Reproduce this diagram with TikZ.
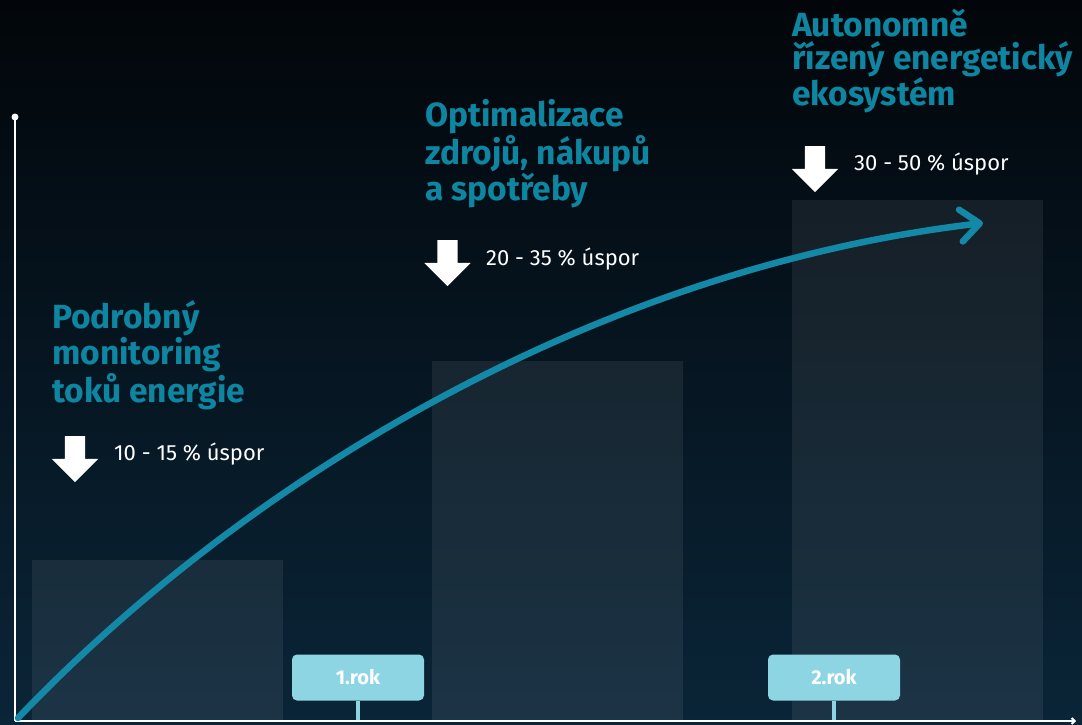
\documentclass[tikz,border=0pt]{standalone}
\usepackage{fontspec}
\setmainfont{Fira Sans}
\usetikzlibrary{arrows.meta,positioning,shapes.arrows}

\definecolor{bgtop}{HTML}{02060A}
\definecolor{bgmid}{HTML}{05121C}
\definecolor{bgbot}{HTML}{0A2538}
\definecolor{titleteal}{HTML}{0E86A2}
\definecolor{curveteal}{HTML}{1489A7}
\definecolor{yearbox}{HTML}{8DD5E3}

\begin{document}
\begin{tikzpicture}[x=1pt,y=-1pt,
    title/.style={anchor=base west,align=left,inner sep=0,text=titleteal,font=\bfseries\fontsize{33.5}{33.5}\selectfont},
    saving/.style={anchor=base west,inner sep=0,text=white,font=\fontsize{22}{24}\selectfont},
    downarrow/.style={single arrow,fill=white,shape border rotate=270,inner sep=10pt,
        single arrow head extend=13pt,single arrow tip angle=90,minimum height=46pt},
    yearlabel/.style={fill=yearbox,rounded corners=5pt,text=white,minimum width=132pt,minimum height=46pt,
        font=\bfseries\fontsize{20}{22}\selectfont},
    bar/.style={fill=white,fill opacity=0.07}]

        % background with gradient
        \shade[top color=bgtop,middle color=bgmid,bottom color=bgbot] (0,0) rectangle (1082,725);
        \useasboundingbox (0,0) rectangle (1082,725);

        % bars for the three stages
        \foreach \xl/\top in {32/560, 432/361, 792/200}{
            \fill[bar] (\xl,\top) rectangle (\xl+251,721);
        }

        % axes
        \coordinate (origin) at (15,721);
        \coordinate (ytop) at (15,117);
        \coordinate (xend) at (1076,721);
        \draw[white,line width=2pt] (origin) -- (ytop);
        \fill[white] (ytop) circle (3.5);
        \draw[white,line width=2pt,-{Straight Barb[length=3pt,width=6pt]}] (origin) -- (xend);

        % year markers with ticks down to the axis
        \foreach \name/\xc/\labels in {rok1/358/{1.rok}, rok2/834/{2.rok}}{
            \node[yearlabel] (\name) at (\xc,677.5) {\labels};
            \draw[yearbox,line width=4pt] (\name.south) -- (\xc,720);
        }

        % growth curve
        \coordinate (c0) at (18,718);
        \coordinate (c1) at (983,223);
        \draw[curveteal,line width=6.5pt,line cap=round,line join=round,
            -{Straight Barb[length=19pt,width=32pt,line cap=round,line join=round]}]
            (c0) .. controls (250,475) and (600,268) .. (c1);

        % titles of the stages (placed by the baseline of the last line)
        \node[title] (t1) at (52,402) {Podrobný\\monitoring\\toků energie};
        \node[title] (t2) at (425,200) {Optimalizace\\zdrojů, nákupů\\a spotřeby};
        \node[title] (t3) at (792,106) {Autonomně\\řízený energetický\\ekosystém};

        % savings with down arrows
        \node[downarrow] (a1) at (75,454) {};
        \node[downarrow] (a2) at (447.5,258) {};
        \node[downarrow] (a3) at (815,164) {};
        \node[saving] (s1) at (114,460) {10 - 15 \% úspor};
        \node[saving] (s2) at (486,265) {20 - 35 \% úspor};
        \node[saving] (s3) at (854,170) {30 - 50 \% úspor};

    \end{tikzpicture}
\end{document}
